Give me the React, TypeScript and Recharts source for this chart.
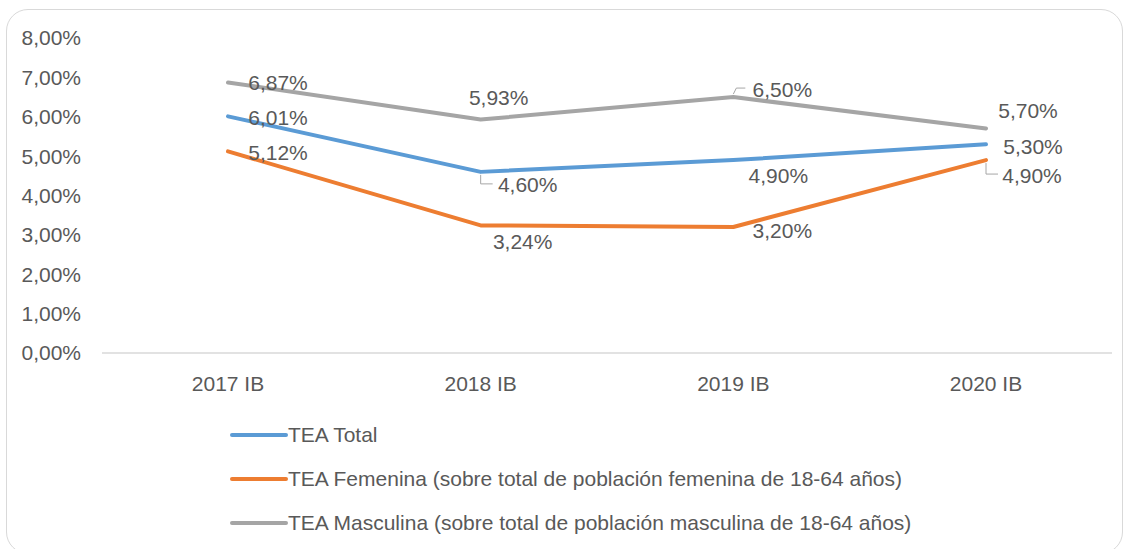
import React from 'react';
import { LineChart, Line, XAxis, YAxis, Legend, LabelList } from 'recharts';

const categories = ['2017 IB', '2018 IB', '2019 IB', '2020 IB'];
const teaTotal = [6.01, 4.6, 4.9, 5.3];
const teaFemenina = [5.12, 3.24, 3.2, 4.9];
const teaMasculina = [6.87, 5.93, 6.5, 5.7];
const yTicks = [0, 1, 2, 3, 4, 5, 6, 7, 8];

const seriesNames = {
  total: 'TEA Total',
  fem: 'TEA Femenina (sobre total de población femenina de 18-64 años)',
  masc: 'TEA Masculina (sobre total de población masculina de 18-64 años)',
};

const colors = { total: '#5B9BD5', fem: '#ED7D31', masc: '#A5A5A5' };
const TEXT = '#595959';
const FONT = '"Liberation Sans", Arial, sans-serif';
const FS = 21;

const data = categories.map((c, i) => ({
  cat: c,
  total: teaTotal[i],
  fem: teaFemenina[i],
  masc: teaMasculina[i],
}));

const fmt = (v: number) => v.toFixed(2).replace('.', ',') + '%';

// label placement (style config, not data)
const labelOffsets: Record<string, number[][]> = {
  masc: [[50, 0], [18, -22], [49, -8], [42, -18]],
  total: [[50, 1], [47, 13], [45, 15], [47, 2]],
  fem: [[50, 1], [42, 16], [49, 3], [46, 15]],
};
const leaders: Record<string, number[]> = { masc: [2], total: [1], fem: [3] };

const makeLabel = (key: string) => (props: any) => {
  const { x, y, index, value } = props;
  if (x == null || y == null) return null;
  const [dx, dy] = labelOffsets[key][index];
  const tx = x + dx;
  const ty = y + dy;
  const hasLeader = leaders[key].includes(index);
  const s = dy >= 0 ? 1 : -1;
  return (
    <g key={`${key}-${index}`}>
      {hasLeader && (
        <path
          d={`M${x},${y + s * 3} L${x + (s < 0 ? 3 : 0)},${ty - 1} L${x + 12},${ty - 1}`}
          stroke="#A6A6A6"
          strokeWidth={1}
          fill="none"
        />
      )}
      <text
        x={tx}
        y={ty}
        textAnchor="middle"
        dominantBaseline="central"
        fill={TEXT}
        fontSize={FS}
        fontFamily={FONT}
      >
        {fmt(value)}
      </text>
    </g>
  );
};

const LegendContent = () => {
  const keys = ['total', 'fem', 'masc'] as const;
  return (
    <div style={{ paddingLeft: 230, fontFamily: FONT, fontSize: FS, color: TEXT }}>
      {keys.map((k) => (
        <div key={k} style={{ height: 44, display: 'flex', alignItems: 'center' }}>
          <svg width={58} height={8} style={{ display: 'block' }}>
            <line x1={2} y1={4} x2={56} y2={4} stroke={colors[k]} strokeWidth={4} strokeLinecap="round" />
          </svg>
          <span style={{ whiteSpace: 'nowrap' }}>{seriesNames[k]}</span>
        </div>
      ))}
    </div>
  );
};

export default function App() {
  return (
    <div style={{ position: 'absolute', left: 0, top: 0, width: 1129, height: 549, background: '#fff' }}>
      <div
        style={{
          position: 'absolute',
          left: 6,
          top: 9,
          width: 1117,
          height: 545,
          border: '1.5px solid #D9D9D9',
          borderRadius: 22,
          boxSizing: 'border-box',
        }}
      />
      <div style={{ position: 'absolute', left: 0, top: 0 }}>
        <LineChart
          width={1129}
          height={549}
          data={data}
          margin={{ top: 38, right: 17, bottom: 4, left: 0 }}
          style={{ fontFamily: FONT }}
        >
          <XAxis
            dataKey="cat"
            axisLine={{ stroke: '#D9D9D9', strokeWidth: 1.5 }}
            tickLine={false}
            tickSize={0}
            tickMargin={23}
            height={60}
            padding={{ left: 126, right: 126 }}
            tick={{ fill: TEXT, fontSize: FS, fontFamily: FONT }}
            interval={0}
          />
          <YAxis
            domain={[0, 8]}
            ticks={yTicks}
            axisLine={false}
            tickLine={false}
            tickSize={0}
            tickMargin={21}
            width={102}
            tickFormatter={fmt}
            tick={{ fill: TEXT, fontSize: FS, fontFamily: FONT }}
          />
          <Legend verticalAlign="bottom" align="left" layout="horizontal" content={<LegendContent />} />
          <Line dataKey="total" stroke={colors.total} strokeWidth={4} dot={false} isAnimationActive={false} strokeLinecap="round" strokeLinejoin="round">
            <LabelList dataKey="total" content={makeLabel('total')} />
          </Line>
          <Line dataKey="fem" stroke={colors.fem} strokeWidth={4} dot={false} isAnimationActive={false} strokeLinecap="round" strokeLinejoin="round">
            <LabelList dataKey="fem" content={makeLabel('fem')} />
          </Line>
          <Line dataKey="masc" stroke={colors.masc} strokeWidth={4} dot={false} isAnimationActive={false} strokeLinecap="round" strokeLinejoin="round">
            <LabelList dataKey="masc" content={makeLabel('masc')} />
          </Line>
        </LineChart>
      </div>
    </div>
  );
}
